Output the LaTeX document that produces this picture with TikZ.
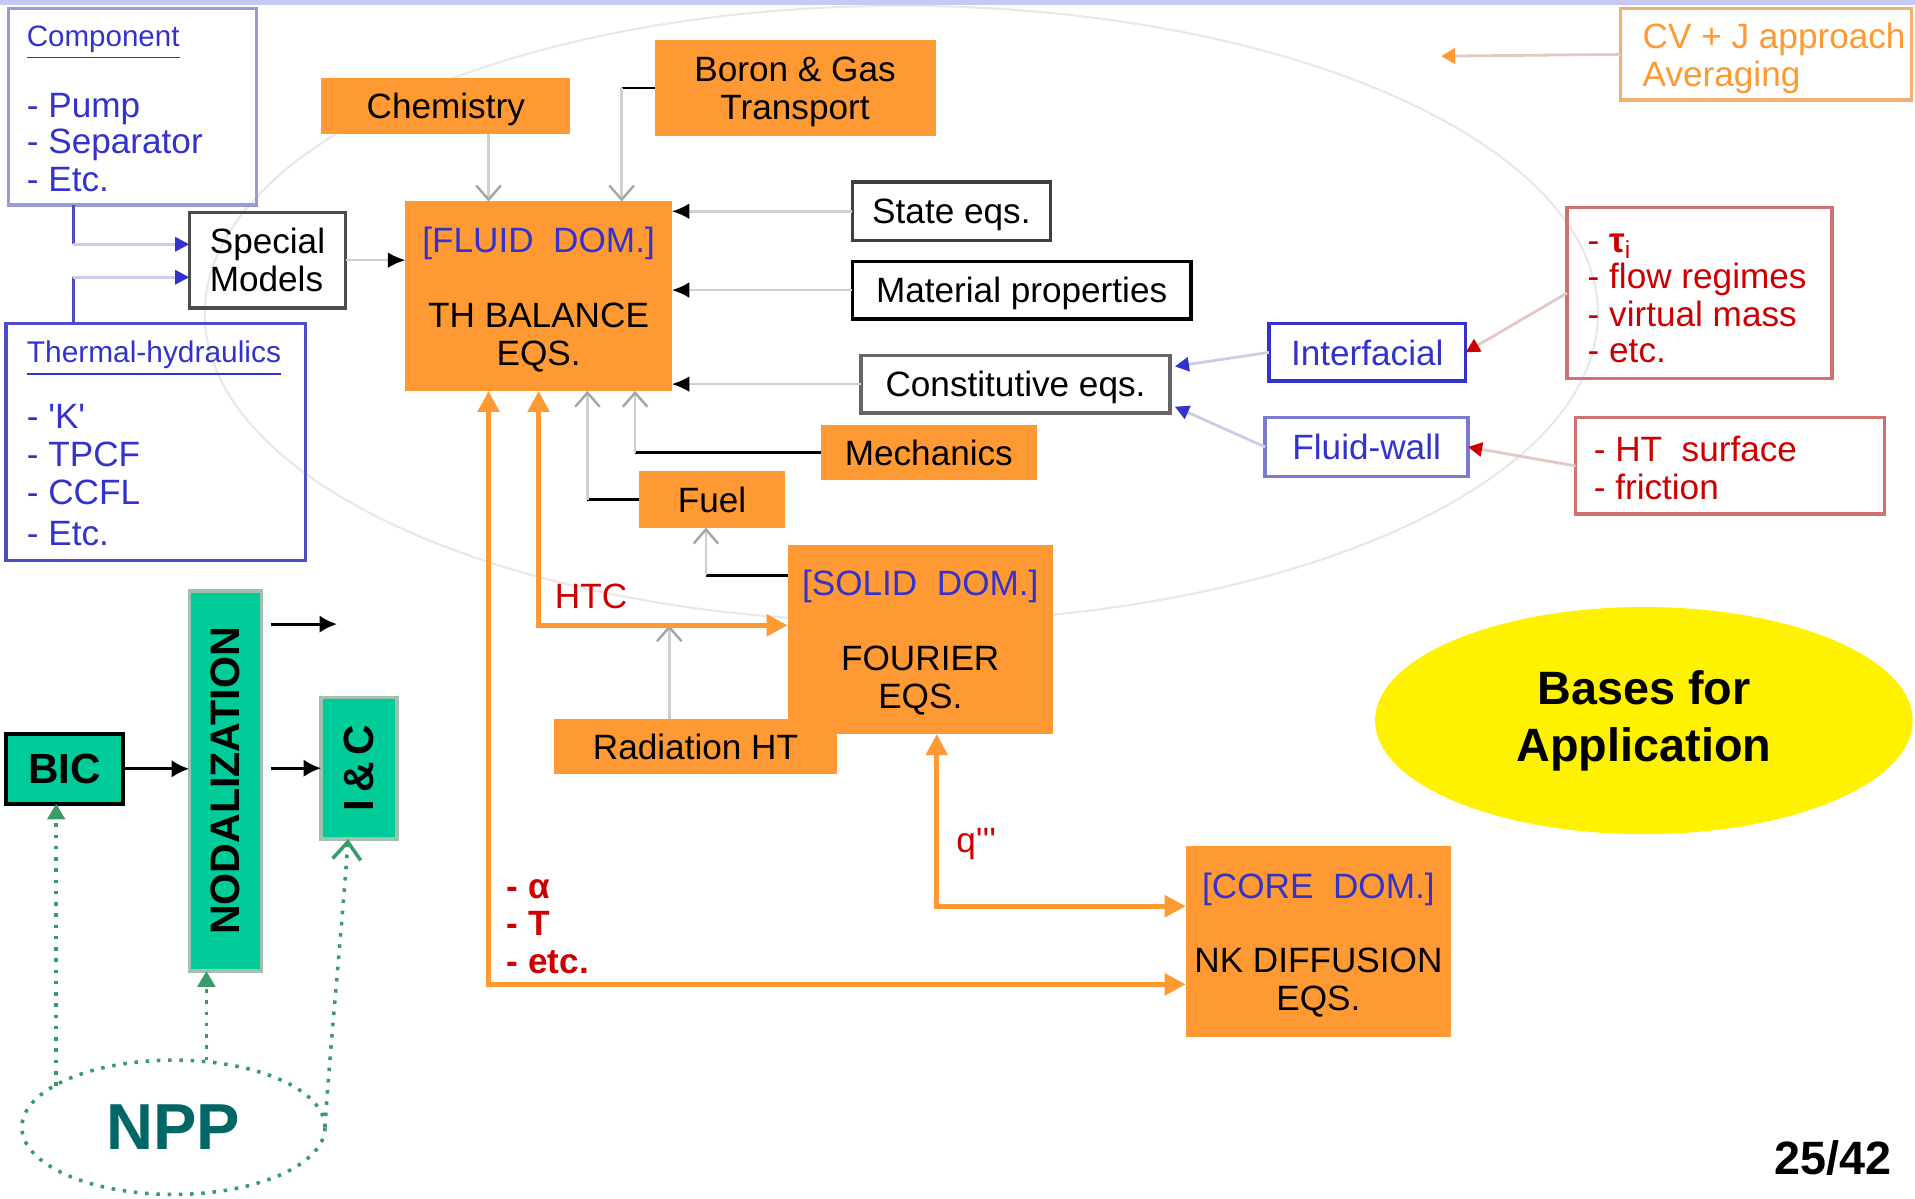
\documentclass[tikz,border=0pt]{standalone}
\usepackage{fontspec}
\setmainfont{Liberation Sans}
\usetikzlibrary{arrows.meta,shapes.geometric}

\definecolor{boxorange}{HTML}{FF9933}
\definecolor{domblue}{HTML}{3333CC}
\definecolor{lavbar}{HTML}{C8C8F4}
\definecolor{hotred}{HTML}{CC0000}
\definecolor{mint}{HTML}{00CC99}
\definecolor{mintframe}{HTML}{A0C0B0}
\definecolor{dotgreen}{HTML}{3A9A6A}
\definecolor{nppteal}{HTML}{006666}
\definecolor{faintline}{HTML}{E8E8E8}
\definecolor{linkgray}{HTML}{D0D0D0}
\definecolor{linklav}{HTML}{CCCCE6}
\definecolor{linkpink}{HTML}{E4C8C4}
\definecolor{compframe}{HTML}{9A9AD4}
\definecolor{thframe}{HTML}{4D4DC8}
\definecolor{wallframe}{HTML}{7A7AD0}
\definecolor{redframe}{HTML}{D07070}
\definecolor{cvframe}{HTML}{F0B070}
\definecolor{cvtext}{HTML}{FF9933}

\begin{document}
\begin{tikzpicture}[x=0.012213cm, y=-0.012213cm,
  every node/.style={inner sep=0pt, outer sep=0pt},
  font=\fontsize{10}{10.8}\selectfont,
  % a rectangle spanning two corners given in picture units
  span/.style n args={4}{rectangle, text depth=0pt,
    minimum width={(#3-#1)*0.3475pt}, minimum height={(#4-#2)*0.3475pt},
    at={({(#1+#3)/2},{(#2+#4)/2})}},
  obox/.style={fill=boxorange, align=center},
  wbox/.style={draw=black!75, line width=1pt, align=center},
  gbox/.style={fill=mint, draw=mintframe, line width=1pt},
  bluetxt/.style={text=domblue},
  redtxt/.style={text=hotred},
  grayline/.style={draw=linkgray, line width=0.7pt},
  darkline/.style={draw=black, line width=0.8pt},
  blackhead/.style={-{Latex[length=5pt,width=4.5pt,black]}},
  openhead/.style={-{Straight Barb[length=4pt,width=7pt,black!35]}},
  oarrow/.style={draw=boxorange, line width=1.4pt,
    {Triangle[length=6pt,width=6pt]}-{Triangle[length=6pt,width=6pt]}},
  bluelink/.style={draw=linklav, line width=0.8pt, -{Triangle[length=4pt,width=4pt,domblue]}},
  redlink/.style={draw=linkpink, line width=0.8pt, -{Triangle[length=4pt,width=4pt,hotred]}},
  blkarrow/.style={draw=black, line width=0.9pt, -{Latex[length=5pt,width=5pt]}},
  dotline/.style={draw=dotgreen, line width=1pt, dash pattern=on 1pt off 2.2pt}
]
\useasboundingbox (0,0) rectangle (1568,981);
\fill[white] (0,0) rectangle (1568,981);
\fill[lavbar] (0,0) rectangle (1568,4);

% faint scope ellipse behind the equation blocks
\draw[faintline, line width=0.6pt] (738,257) ellipse [x radius=198.1pt, y radius=87.6pt];

% ---------- side lists ----------
\node[draw=compframe, line width=1pt, span={7}{7}{210}{168}] (comp) {};
\node[bluetxt, anchor=base west, font=\fontsize{8.4}{10}\selectfont] (compt) at (22,38) {\underline{Component}};
\foreach \t/\yb [count=\k] in {- Pump/96, - Separator/126, - Etc./157}
  \node[bluetxt, anchor=base west] (compi\k) at (22,\yb) {\t};

\node[draw=thframe, line width=1pt, span={5}{265}{250}{459}] (th) {};
\node[bluetxt, anchor=base west, font=\fontsize{8.5}{10}\selectfont] (tht) at (22,297) {\underline{Thermal-hydraulics}};
\foreach \t/\yb [count=\k] in {- \textquotesingle K\textquotesingle/351, - TPCF/382, - CCFL/413, - Etc./447}
  \node[bluetxt, anchor=base west] (thi\k) at (22,\yb) {\t};

\node[wbox, draw=black!70, span={155}{174}{283}{252}, align=left] (special) {Special\\Models};

% ---------- orange blocks ----------
\node[obox, span={263}{64}{467}{110}] (chem) {Chemistry};
\node[obox, span={536}{33}{766}{111}] (boron) {Boron \& Gas\\Transport};
\node[obox, span={332}{165}{550}{320}] (fluid)
  {\textcolor{domblue}{[FLUID\ \ DOM.]}\\[10.4pt]TH BALANCE\\EQS.};
\node[obox, span={672}{348}{849}{393}] (mech) {Mechanics};
\node[obox, span={523}{386}{643}{432}] (fuel) {Fuel};
\node[obox, span={645}{446}{862}{601}] (solid)
  {\textcolor{domblue}{[SOLID\ \ DOM.]}\\[10.4pt]FOURIER\\EQS.};
\node[obox, span={454}{589}{685}{634}] (rad) {Radiation HT};
\node[obox, span={971}{693}{1188}{849}] (core)
  {\textcolor{domblue}{[CORE\ \ DOM.]}\\[10.4pt]NK DIFFUSION\\EQS.};

% ---------- white input boxes ----------
\node[wbox, span={698}{149}{860}{197}] (state) {State eqs.};
\node[wbox, draw=black, span={698}{214}{975}{261}] (mat) {Material properties};
\node[wbox, draw=black!60, span={705}{291}{958}{338}] (const) {Constitutive eqs.};

% ---------- closure boxes ----------
\node[draw=domblue, line width=1pt, text=domblue, span={1039}{265}{1200}{312}] (inter) {Interfacial};
\node[draw=wallframe, line width=1pt, text=domblue, span={1036}{342}{1202}{390}] (fwall) {Fluid-wall};

\node[draw=redframe, line width=1pt, span={1283}{170}{1500}{310}] (red1) {};
\foreach \t/\yb [count=\k] in {- {\bfseries τ}\textsubscript{i}/207, - flow regimes/236, - virtual mass/267, - etc./297}
  \node[redtxt, anchor=base west] (redi\k) at (1300,\yb) {\t};

\node[draw=redframe, line width=1pt, span={1290}{342}{1543}{421}] (red2) {};
\foreach \t/\yb [count=\k] in {- HT\ \ surface/378, - friction/409}
  \node[redtxt, anchor=base west] (redj\k) at (1305,\yb) {\t};

\node[draw=cvframe, line width=1pt, span={1327}{7}{1565}{82}] (cvj) {};
\foreach \t/\yb [count=\k] in {CV + J approach/40, Averaging/71}
  \node[text=cvtext, anchor=base west] (cvt\k) at (1345,\yb) {\t};

% ---------- connectors into the fluid domain ----------
\coordinate (cs) at (60,200);
\coordinate (ts) at (60,227);
\draw[draw=thframe, line width=0.8pt] (comp.south -| cs) -- (cs);
\draw[bluelink] (cs) -- (cs -| special.west);
\draw[draw=thframe, line width=0.8pt] (th.north -| ts) -- (ts);
\draw[bluelink] (ts) -- (ts -| special.west);

\draw[grayline, blackhead] (special.east) -- (special.east -| fluid.west);

\coordinate (xc) at (400,0);
\draw[grayline, openhead] (chem.south -| xc) -- (fluid.north -| xc);

\coordinate (xb) at (509,0);
\draw[darkline] (boron.west) -- (boron.west -| xb);
\draw[grayline, openhead] (boron.west -| xb) -- (fluid.north -| xb);

\draw[grayline, blackhead] (state.west) -- (state.west -| fluid.east);
\draw[grayline, blackhead] (mat.west) -- (mat.west -| fluid.east);
\draw[grayline, blackhead] (const.west) -- (const.west -| fluid.east);

\coordinate (xm) at (520,0);
\draw[darkline] (mech.west) -- (mech.west -| xm);
\draw[grayline, openhead] (mech.west -| xm) -- (fluid.south -| xm);

\coordinate (xf) at (481,0);
\draw[darkline] (fuel.west) -- (fuel.west -| xf);
\draw[grayline, openhead] (fuel.west -| xf) -- (fluid.south -| xf);

\coordinate (ys) at (0,471);
\coordinate (xs) at (578,0);
\draw[darkline] (solid.west |- ys) -- (xs |- ys);
\draw[grayline, openhead] (xs |- ys) -- (fuel.south -| xs);

% ---------- coupling arrows ----------
\coordinate (xh) at (441,0);
\coordinate (yh) at (0,512);
\coordinate (xr) at (548,0);
\draw[grayline, openhead] (rad.north -| xr) -- (xr |- yh);
\draw[oarrow] (fluid.south -| xh) -- (xh |- yh) -- (solid.west |- yh);
\node[redtxt, anchor=base] (htc) at (484,498) {HTC};

\coordinate (xa) at (400,0);
\coordinate (ya) at (0,806);
\draw[oarrow] (fluid.south -| xa) -- (xa |- ya) -- (core.west |- ya);
\foreach \t/\yb [count=\k] in {- α/736, - T/766, - etc./797}
  \node[redtxt, font=\bfseries\fontsize{10}{10.8}\selectfont, anchor=base west] (cpl\k) at (415,\yb) {\t};

\coordinate (xq) at (767,0);
\coordinate (yq) at (0,742);
\draw[oarrow] (solid.south -| xq) -- (xq |- yq) -- (core.west |- yq);
\node[redtxt, anchor=base west] (qlbl) at (783,698) {q\textquotesingle\textquotesingle\textquotesingle};

% ---------- closure links ----------
\coordinate (cin) at (962,300);
\coordinate (cfw) at (962,333);
\draw[bluelink] (inter.west) -- (cin);
\draw[bluelink] (fwall.west) -- (cfw);
\draw[redlink] (red1.west) -- (inter.east);
\draw[redlink] (red2.west) -- (fwall.east);

\coordinate (cvtip) at (1180,46);
\draw[draw=linkpink, line width=0.8pt, -{Triangle[length=4pt,width=4.5pt,boxorange]}] (cvj.west) -- (cvtip);

% ---------- plant model chain ----------
\node[gbox, span={155}{484}{214}{795}] (nod)
  {\rotatebox{90}{\bfseries\fontsize{11.7}{14}\selectfont NODALIZATION}};
\node[gbox, draw=black, line width=1.2pt, span={5}{601}{101}{658}] (bic)
  {\bfseries\fontsize{12}{14}\selectfont BIC};
\node[gbox, span={263}{571}{325}{687}] (ic)
  {\rotatebox{90}{\bfseries\fontsize{12}{14}\selectfont I\,\&\,C}};

\draw[blkarrow] (bic.east) -- (bic.east -| nod.west);
\coordinate (xn) at (222,0);
\draw[blkarrow] (xn |- ic.west) -- (ic.west);
\coordinate (fa) at (222,511);
\coordinate (fb) at (276,511);
\draw[blkarrow] (fa) -- (fb);

\node[ellipse, dotline, minimum width=86.2pt, minimum height=38.2pt,
  text=nppteal, font=\bfseries\fontsize{18.5}{20}\selectfont] (npp) at (142,923) {NPP};

\coordinate (nb) at (46,889);
\draw[dotline, -{Triangle[length=4.5pt,width=5pt]}] (nb) -- (nb |- bic.south);
\coordinate (xnd) at (169,0);
\draw[dotline, -{Triangle[length=4.5pt,width=5pt]}] (xnd |- npp.north) -- (nod.south -| xnd);
\coordinate (xi) at (285,0);
\draw[dotline, -{Straight Barb[length=5pt,width=8pt]}] (npp.east) .. controls (270,860) and (280,760) .. (ic.south -| xi);

% ---------- title bubble and page number ----------
\node[ellipse, fill=yellow, minimum width=152.9pt, minimum height=64.6pt, align=center,
  font=\bfseries\fontsize{13.3}{16.3}\selectfont] (bases) at (1346,590) {Bases for\\Application};
\node[anchor=base east, font=\bfseries\fontsize{13.3}{15}\selectfont] (page) at (1549,962) {25/42};
\end{tikzpicture}
\end{document}
